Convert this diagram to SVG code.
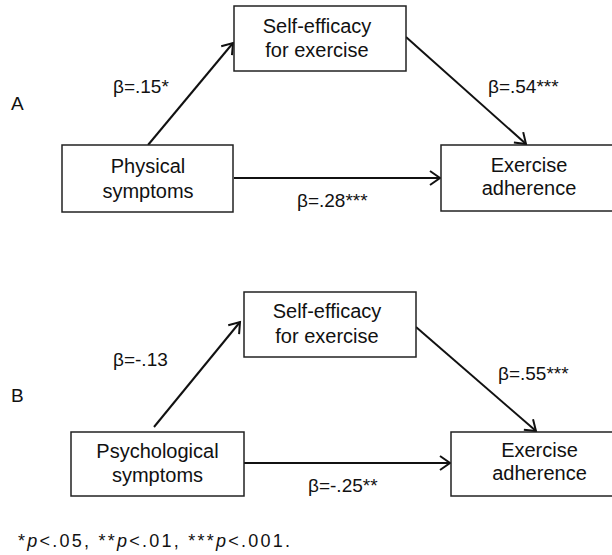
<svg xmlns="http://www.w3.org/2000/svg" width="612" height="555" viewBox="0 0 612 555">
<style>
.box{fill:#fff;stroke:#222;stroke-width:1.5}
.nt{font-family:"Liberation Sans",Arial,sans-serif;font-size:20px;fill:#111;text-anchor:middle}
.lb{font-family:"Liberation Sans",Arial,sans-serif;font-size:19px;fill:#111}
.ln{stroke:#111;stroke-width:2;fill:none}
</style>
<defs>
<marker id="arr" markerUnits="userSpaceOnUse" markerWidth="20" markerHeight="20" refX="12" refY="10" orient="auto">
<path d="M2,3 L12,10 L2,17" fill="none" stroke="#111" stroke-width="2"/>
</marker>
</defs>
<rect width="612" height="555" fill="#fff"/>
<text class="lb" x="11" y="110">A</text>
<text class="lb" x="11" y="402">B</text>
<g id="connectors">
<line class="ln" x1="148" y1="145" x2="233" y2="43" marker-end="url(#arr)"/>
<line class="ln" x1="406" y1="37" x2="526" y2="144" marker-end="url(#arr)"/>
<line class="ln" x1="234" y1="178" x2="440" y2="178" marker-end="url(#arr)"/>
<line class="ln" x1="154" y1="427" x2="240" y2="322" marker-end="url(#arr)"/>
<line class="ln" x1="416" y1="327" x2="536" y2="431" marker-end="url(#arr)"/>
<line class="ln" x1="244" y1="463" x2="450" y2="463" marker-end="url(#arr)"/>
<text class="lb" x="113" y="93">β=.15*</text>
<text class="lb" x="488" y="93">β=.54***</text>
<text class="lb" x="297" y="207">β=.28***</text>
<text class="lb" x="113" y="366">β=-.13</text>
<text class="lb" x="498" y="380">β=.55***</text>
<text class="lb" x="308" y="492">β=-.25**</text>
</g>
<g id="a-selfefficacy">
<rect class="box" x="234" y="6" width="172" height="65"/>
<text class="nt" x="317" y="33">Self-efficacy</text>
<text class="nt" x="317" y="57">for exercise</text>
</g>
<g id="a-physical">
<rect class="box" x="62" y="145" width="171" height="67"/>
<text class="nt" x="148" y="173">Physical</text>
<text class="nt" x="148" y="198">symptoms</text>
</g>
<g id="a-adherence">
<rect class="box" x="441" y="145" width="176" height="66"/>
<text class="nt" x="529" y="172">Exercise</text>
<text class="nt" x="529" y="195">adherence</text>
</g>
<g id="b-selfefficacy">
<rect class="box" x="244" y="292" width="172" height="65"/>
<text class="nt" x="327" y="318">Self-efficacy</text>
<text class="nt" x="327" y="343">for exercise</text>
</g>
<g id="b-psychological">
<rect class="box" x="71" y="432" width="173" height="64"/>
<text class="nt" x="157.5" y="458">Psychological</text>
<text class="nt" x="157.5" y="482">symptoms</text>
</g>
<g id="b-adherence">
<rect class="box" x="451" y="432" width="176" height="64"/>
<text class="nt" x="539.5" y="457">Exercise</text>
<text class="nt" x="539.5" y="480">adherence</text>
</g>
<text x="18" y="547" font-family="'Liberation Sans',Arial,sans-serif" font-size="18" fill="#111" textLength="272" lengthAdjust="spacing">*<tspan font-style="italic">p</tspan>&lt;.05, **<tspan font-style="italic">p</tspan>&lt;.01, ***<tspan font-style="italic">p</tspan>&lt;.001.</text>
</svg>
